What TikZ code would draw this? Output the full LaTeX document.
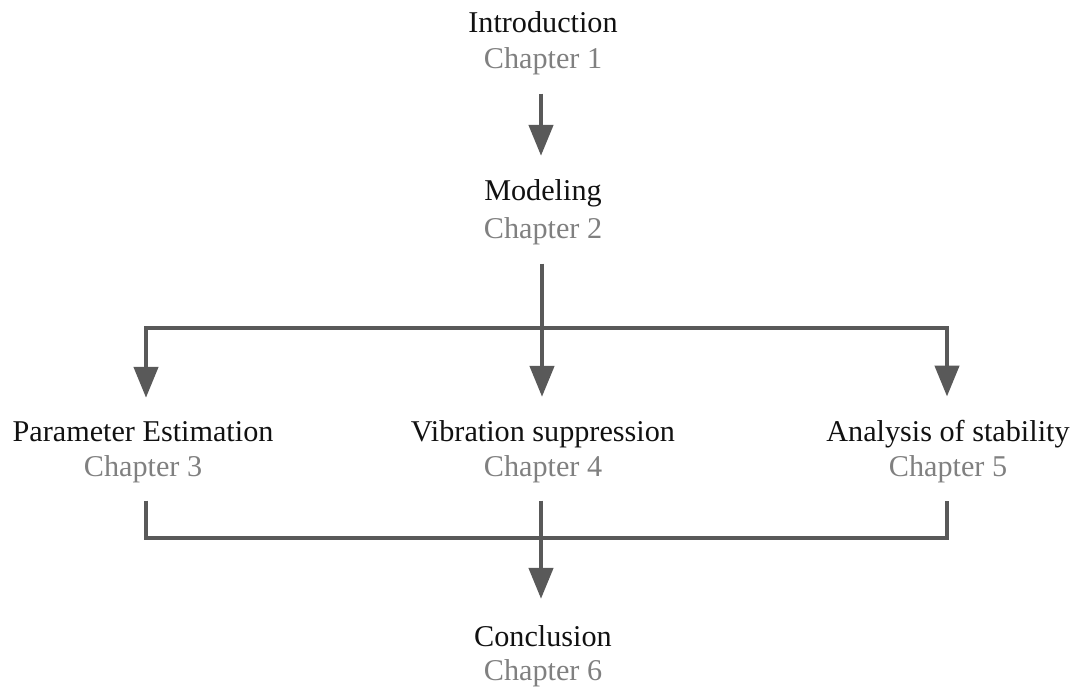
\documentclass[tikz,border=0pt]{standalone}
\usepackage{fontspec}
\setmainfont{Liberation Serif}
\usetikzlibrary{arrows.meta}
\definecolor{linkgray}{HTML}{595959}
\definecolor{chapgray}{HTML}{808080}
\definecolor{titleink}{HTML}{111111}
\begin{document}
\begin{tikzpicture}[x=1pt,y=-1pt,
  title/.style={anchor=base,inner sep=0pt,text=titleink,font=\fontsize{30.2}{36}\selectfont},
  chap/.style={anchor=base,inner sep=0pt,text=chapgray,font=\fontsize{30.2}{36}\selectfont},
  link/.style={draw=linkgray,line width=4.5pt},
  arr/.style={link,-{Triangle[width=24pt,length=31pt]}}]
\useasboundingbox (0,0) rectangle (1079,688);

% chapter labels
\node[title] (t1) at (543,32) {Introduction};
\node[chap]  (c1) at (543,68) {Chapter 1};
\node[title] (t2) at (543,200) {Modeling};
\node[chap]  (c2) at (543,238) {Chapter 2};
\node[title] (t3) at (143,441) {Parameter Estimation};
\node[chap]  (c3) at (143,476) {Chapter 3};
\node[title] (t4) at (543,441) {Vibration suppression};
\node[chap]  (c4) at (543,476) {Chapter 4};
\node[title] (t5) at (948,441) {Analysis of stability};
\node[chap]  (c5) at (948,476) {Chapter 5};
\node[title] (t6) at (543,646) {Conclusion};
\node[chap]  (c6) at (543,680) {Chapter 6};

% branch and merge points
\coordinate (fork)  at (542,328);
\coordinate (forkL) at (146,328);
\coordinate (forkR) at (947,328);
\coordinate (joinL) at (146,538);
\coordinate (joinR) at (947,538);

% Introduction -> Modeling
\draw[arr,shorten <=19pt,shorten >=23pt] ([xshift=-2pt]c1.south) -- ([xshift=-2pt]t2.north);

% Modeling -> three branches
\draw[arr,shorten <=19pt,shorten >=23pt] ([xshift=-1pt]c2.south) -- ([xshift=-1pt]t4.north);
\draw[arr,shorten >=23pt] (fork) -- (forkL) -- (forkL |- t3.north);
\draw[arr,shorten >=23pt] (fork) -- (forkR) -- (forkR |- t5.north);

% branches -> Conclusion
\draw[link,shorten <=18pt,shorten >=18pt] (joinL |- c3.south) -- (joinL) -- (joinR) -- (joinR |- c5.south);
\draw[arr,shorten <=18pt,shorten >=26pt] ([xshift=-2pt]c4.south) -- ([xshift=-2pt]t6.north);
\end{tikzpicture}
\end{document}
